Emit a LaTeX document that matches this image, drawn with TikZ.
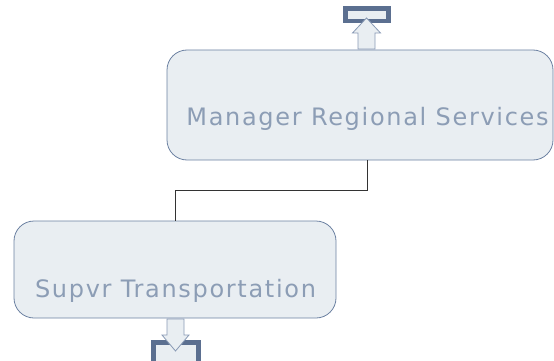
\documentclass[tikz,border=0pt]{standalone}
\usepackage{fontspec}
\setmainfont{DejaVu Sans}[LetterSpace=7]
\definecolor{boxfill}{HTML}{E9EEF2}
\definecolor{boxline}{HTML}{6C81A2}
\definecolor{boxtext}{HTML}{8C9DB5}
\definecolor{framedark}{HTML}{5B6F90}
\tikzset{
  orgbox/.style={draw=boxline,fill=boxfill,rounded corners=20pt,line width=0.8pt,inner sep=0pt},
  orgtext/.style={text=boxtext,font=\fontsize{24}{28}\selectfont,inner sep=0pt,anchor=base},
  iconframe/.style={draw=framedark,fill=boxfill,line width=4.5pt},
  iconarrow/.style={draw=boxline!80,fill=boxfill,line width=0.8pt,line join=miter},
}
\begin{document}
\begin{tikzpicture}[x=1pt,y=-1pt]
                \useasboundingbox (0,0) rectangle (554,361);
                % up icon above the manager
                \draw[iconframe] (345.5,8.5) rectangle (388.5,21);
                \coordinate (upfoot) at (366.5,49);
                \draw[iconarrow] (upfoot) ++(-8.5,0) -- ++(0,-16) -- ++(-5.5,0) -- (366.5,18) -- (380.5,33) -- ++(-5.5,0) -- ++(0,16) -- cycle;
                % boxes
                \node[orgbox,minimum width=386pt,minimum height=110pt] (mgr) at (360,105) {};
                \node[orgtext] (mgrtext) at (367.5,125) {Manager Regional Services};
                \node[orgbox,minimum width=322pt,minimum height=97pt] (sup) at (175,269.5) {};
                \node[orgtext] (suptext) at (175.5,297) {Supvr Transportation};
                % reporting line
                \draw[line width=0.8pt,black!80] (mgrtext.base |- mgr.south) -- ++(0,30) -| (sup.north);
                % down icon below the supervisor
                \draw[iconframe] (153.5,342.5) rectangle (198.5,364);
                \coordinate (downtop) at (175.5,319);
                \draw[iconarrow] (downtop) ++(-8.5,0) -- ++(0,16) -- ++(-5,0) -- (175.5,351) -- (189,335) -- ++(-5,0) -- ++(0,-16) -- cycle;
            \end{tikzpicture}
\end{document}
